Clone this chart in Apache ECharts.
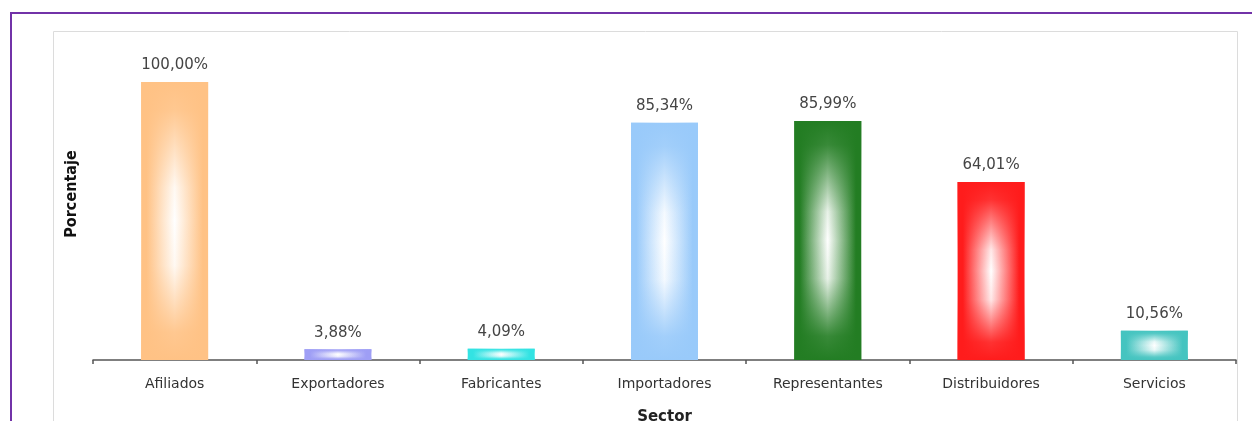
<!DOCTYPE html>
<html>
<head>
<meta charset="utf-8">
<style>
  html, body { margin: 0; padding: 0; background: #ffffff; overflow: hidden; }
  #chart { width: 1252px; height: 421px; }
</style>
<script src="https://cdn.jsdelivr.net/npm/echarts@6/dist/echarts.min.js"></script>
</head>
<body>
<div id="chart"></div>
<script>
// ---- data ----
var categories = ['Afiliados', 'Exportadores', 'Fabricantes', 'Importadores', 'Representantes', 'Distribuidores', 'Servicios'];
var percentages = [100.00, 3.88, 4.09, 85.34, 85.99, 64.01, 10.56];
var barColors = ['#FFC285', '#9E9EF5', '#33E3E3', '#99CAFA', '#237D23', '#FF1C1C', '#45C4C0'];
var yTitle = 'Porcentaje';
var xTitle = 'Sector';

function hexToRgba(hex, a) {
  var n = parseInt(hex.slice(1), 16);
  return 'rgba(' + ((n >> 16) & 255) + ',' + ((n >> 8) & 255) + ',' + (n & 255) + ',' + a + ')';
}

var baseData = percentages.map(function (v, i) {
  return { value: v, itemStyle: { color: { type: 'linear', x: 0, y: 0, x2: 1, y2: 0,
    colorStops: [ { offset: 0, color: barColors[i] }, { offset: 0.08, color: barColors[i] },
      { offset: 0.5, color: '#ffffff' }, { offset: 0.92, color: barColors[i] }, { offset: 1, color: barColors[i] } ] } } };
});
var overlayData = percentages.map(function (v, i) {
  return { value: v, itemStyle: { color: { type: 'linear', x: 0, y: 0, x2: 0, y2: 1,
    colorStops: [ { offset: 0, color: hexToRgba(barColors[i], 1) }, { offset: 0.1, color: hexToRgba(barColors[i], 0.9) },
      { offset: 0.38, color: hexToRgba(barColors[i], 0.1) }, { offset: 0.5, color: hexToRgba(barColors[i], 0) },
      { offset: 0.66, color: hexToRgba(barColors[i], 0.1) }, { offset: 0.9, color: hexToRgba(barColors[i], 0.9) },
      { offset: 1, color: hexToRgba(barColors[i], 1) } ] } } };
});

var chart = echarts.init(document.getElementById('chart'), null, { renderer: 'canvas' });
chart.setOption({
  backgroundColor: '#ffffff',
  animation: false,
  graphic: [
    { type: 'rect', z: -10, silent: true, shape: { x: 53.5, y: 31.5, width: 1184, height: 400 },
      style: { fill: '#ffffff', stroke: '#dcdcdc', lineWidth: 1 } },
    { type: 'line', z: 10, silent: true, shape: { x1: 11, y1: 13, x2: 1252, y2: 13 }, style: { stroke: '#7232A8', lineWidth: 2 } },
    { type: 'line', z: 10, silent: true, shape: { x1: 11, y1: 12, x2: 11, y2: 421 }, style: { stroke: '#7232A8', lineWidth: 2 } },
    { type: 'text', silent: true, x: 72, y: 194, rotation: Math.PI / 2,
      style: { text: yTitle, align: 'center', verticalAlign: 'middle', fill: '#111',
               font: 'bold 16px "Liberation Sans Narrow", "DejaVu Sans Condensed", "Liberation Sans", sans-serif' } }
  ],
  grid: { left: 93, width: 1143, top: 82, height: 278, containLabel: false, outerBoundsMode: 'none' },
  xAxis: {
    type: 'category', data: categories, name: xTitle, nameLocation: 'middle', nameGap: 50,
    nameTextStyle: { fontFamily: 'DejaVu Sans', fontWeight: 'bold', fontSize: 15, color: '#222' },
    axisLine: { lineStyle: { color: '#555', width: 1.5 } },
    axisTick: { show: true, length: 4, lineStyle: { color: '#555', width: 1.5 } },
    axisLabel: { margin: 17, fontFamily: 'DejaVu Sans', fontSize: 14, color: '#333', interval: 0 }
  },
  yAxis: { type: 'value', min: 0, max: 100, show: false },
  series: [
    { type: 'bar', data: baseData, barWidth: '41%', silent: true },
    { type: 'bar', data: overlayData, barWidth: '41%', barGap: '-100%', silent: true,
      label: { show: true, position: 'top', distance: 9, fontFamily: 'DejaVu Sans', fontSize: 15, color: '#444',
        formatter: function (p) { return p.value.toFixed(2).replace('.', ',') + '%'; } } }
  ]
});
</script>
</body>
</html>
